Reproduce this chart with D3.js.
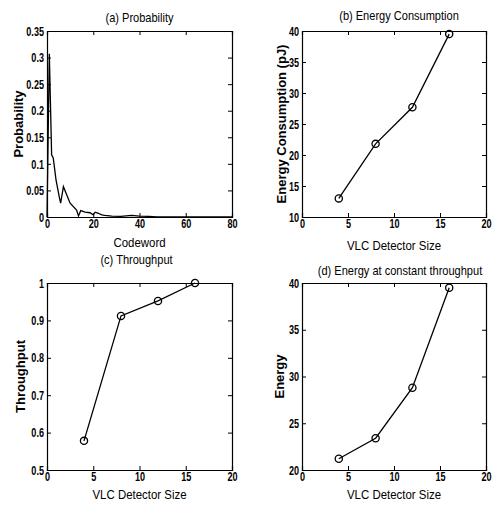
<!DOCTYPE html>
<html>
<head>
<meta charset="utf-8">
<script src="https://cdn.jsdelivr.net/npm/d3@7"></script>
<style>
  body { margin: 0; background: #fff; }
  svg text { font-family: "Liberation Sans", Arial, sans-serif; fill: #000; }
  .tick-label { font-size: 13px; font-weight: bold; }
  .title, .xlabel { font-size: 13px; }
  .ylabel { font-size: 13px; font-weight: bold; }
</style>
</head>
<body>
<svg id="fig" width="493" height="505"></svg>
<script>
// (a) probability of each codeword
var codeword = [0, 1, 2, 2.7, 3.9, 5.3, 5.9, 7.1, 10, 12.8, 13.6, 14.6, 16.5, 18.6, 20, 20.8, 22.2, 23.7, 25, 28, 32, 36.5, 40, 44, 47.5, 55, 65, 80];
var probability = [0, 0.307, 0.117, 0.111, 0.07, 0.038, 0.026, 0.057, 0.026, 0.013, 0.002, 0.012, 0.009, 0.008, 0.004, 0.009, 0.007, 0.004, 0.003, 0.0015, 0.001, 0.003, 0.0015, 0.001, 0, 0, 0, 0];

// (b), (c), (d) against detector size
var detectorSize = [4, 8, 12, 16];
var energyConsumption = [13, 21.8, 27.7, 39.5];
var throughput = [0.578, 0.912, 0.952, 1.0];
var energyConstant = [21.2, 23.4, 28.8, 39.5];

var panels = [
  { title: "(a) Probability", xlabel: "Codeword", ylabel: "Probability",
    xs: codeword, ys: probability, markers: false,
    xdom: [0, 80], xticks: [0, 20, 40, 60, 80],
    ydom: [0, 0.35], yticks: [0, 0.05, 0.1, 0.15, 0.2, 0.25, 0.3, 0.35],
    left: 47, right: 232, top: 31, bottom: 217, titleY: 22, titleDx: 0, xlabY: 247, ylabX: 23 },
  { title: "(b) Energy Consumption", xlabel: "VLC Detector Size", ylabel: "Energy Consumption  (pJ)",
    xs: detectorSize, ys: energyConsumption, markers: true,
    xdom: [0, 20], xticks: [0, 5, 10, 15, 20],
    ydom: [10, 40], yticks: [10, 15, 20, 25, 30, 35, 40],
    left: 302, right: 486, top: 31, bottom: 217, titleY: 20, titleDx: 5, xlabY: 250, ylabX: 286 },
  { title: "(c) Throughput", xlabel: "VLC Detector Size", ylabel: "Throughput",
    xs: detectorSize, ys: throughput, markers: true,
    xdom: [0, 20], xticks: [0, 5, 10, 15, 20],
    ydom: [0.5, 1], yticks: [0.5, 0.6, 0.7, 0.8, 0.9, 1],
    left: 47, right: 232, top: 283, bottom: 470, titleY: 264, titleDx: -3, xlabY: 499, ylabX: 25 },
  { title: "(d) Energy at constant throughput", xlabel: "VLC Detector Size", ylabel: "Energy",
    xs: detectorSize, ys: energyConstant, markers: true,
    xdom: [0, 20], xticks: [0, 5, 10, 15, 20],
    ydom: [20, 40], yticks: [20, 25, 30, 35, 40],
    left: 302, right: 486, top: 283, bottom: 470, titleY: 275, titleDx: 6, xlabY: 499, ylabX: 284 }
];

var svg = d3.select("#fig");
var tickScale = 0.7, titleScale = 0.85, xlabScale = 0.88;

function squeeze(sel, s) {
  // condense axis tick text horizontally, keeping the anchor in place
  sel.each(function() {
    var t = d3.select(this);
    var x = +t.attr("x") || 0;
    t.attr("x", x / s).attr("transform", "scale(" + s + ",1)");
  });
}

function label(cls, x, y, s, rot, txt) {
  svg.append("text").attr("class", cls)
    .attr("transform", "translate(" + x + "," + y + ")" + (rot ? " rotate(-90)" : "") + " scale(" + s + ",1)")
    .attr("text-anchor", "middle").text(txt);
}

panels.forEach(function(p) {
  var w = p.right - p.left, h = p.bottom - p.top;
  var x = d3.scaleLinear().domain(p.xdom).range([0, w]);
  var y = d3.scaleLinear().domain(p.ydom).range([h, 0]);
  var fmt = function(d) { return String(+d.toFixed(2)); };

  var g = svg.append("g").attr("transform", "translate(" + p.left + "," + p.top + ")");

  // box with inward ticks on all four sides
  g.append("g").attr("transform", "translate(0," + h + ")")
    .call(d3.axisBottom(x).tickValues(p.xticks).tickSize(-4).tickPadding(2).tickFormat(fmt));
  g.append("g")
    .call(d3.axisTop(x).tickValues(p.xticks).tickSize(-4).tickFormat(""));
  g.append("g")
    .call(d3.axisLeft(y).tickValues(p.yticks).tickSize(-4).tickPadding(3).tickFormat(fmt));
  g.append("g").attr("transform", "translate(" + w + ",0)")
    .call(d3.axisRight(y).tickValues(p.yticks).tickSize(-4).tickFormat(""));

  g.selectAll(".domain").attr("stroke", "#000").attr("stroke-width", 1.2);
  g.selectAll(".tick line").attr("stroke", "#000").attr("stroke-width", 1);
  var tt = g.selectAll(".tick text").attr("class", "tick-label").attr("font-family", null).attr("font-size", null);
  squeeze(tt, tickScale);

  var pts = p.xs.map(function(d, i) { return [d, p.ys[i]]; });
  var line = d3.line().x(function(d) { return x(d[0]); }).y(function(d) { return y(d[1]); });
  g.append("path").datum(pts)
    .attr("d", line).attr("fill", "none").attr("stroke", "#000").attr("stroke-width", 1.3);

  if (p.markers) {
    g.selectAll("circle.pt").data(pts).enter().append("circle")
      .attr("class", "pt")
      .attr("cx", function(d) { return x(d[0]); })
      .attr("cy", function(d) { return y(d[1]); })
      .attr("r", 3.6)
      .attr("fill", "none").attr("stroke", "#000").attr("stroke-width", 1.3);
  }

  label("title", p.left + w / 2 + p.titleDx, p.titleY, titleScale, false, p.title);
  label("xlabel", p.left + w / 2, p.xlabY, xlabScale, false, p.xlabel);
  label("ylabel", p.ylabX, p.top + h / 2, 1, true, p.ylabel);
});
</script>
</body>
</html>
